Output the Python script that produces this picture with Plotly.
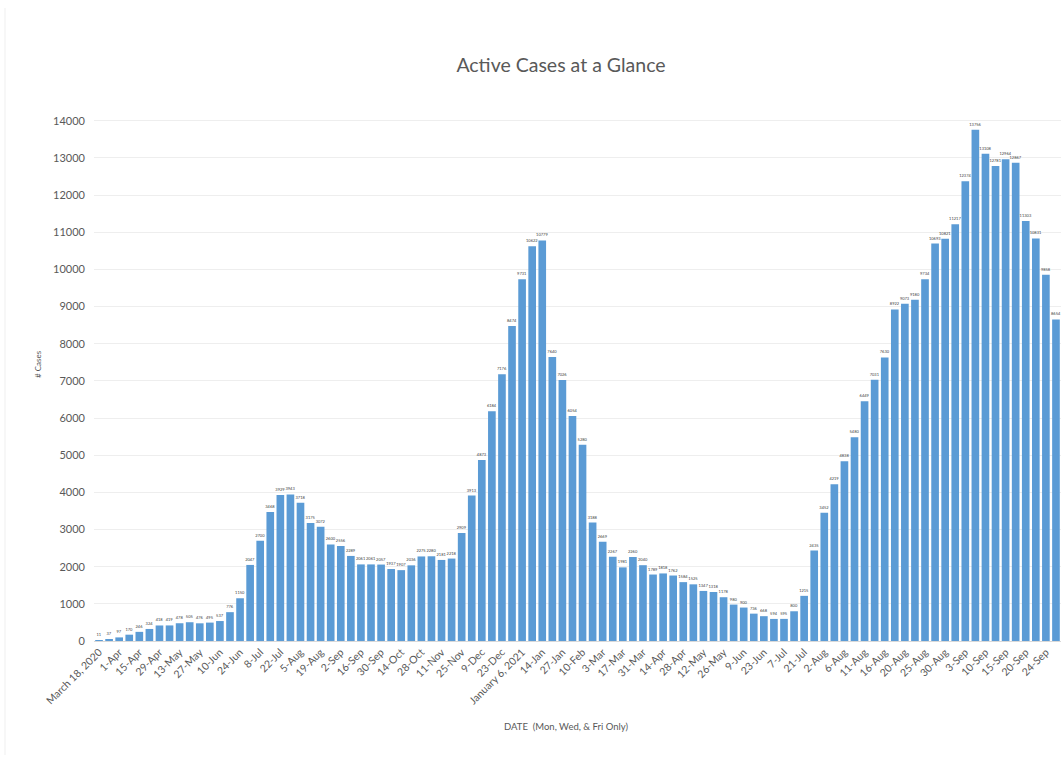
import plotly.graph_objects as go

categories = [
    "March 18, 2020", "25-Mar", "1-Apr", "8-Apr", "15-Apr", "22-Apr", "29-Apr", "6-May",
    "13-May", "20-May", "27-May", "3-Jun", "10-Jun", "17-Jun", "24-Jun", "1-Jul",
    "8-Jul", "15-Jul", "22-Jul", "29-Jul", "5-Aug", "12-Aug", "19-Aug", "26-Aug",
    "2-Sep", "9-Sep", "16-Sep", "23-Sep", "30-Sep", "7-Oct", "14-Oct", "21-Oct",
    "28-Oct", "4-Nov", "11-Nov", "18-Nov", "25-Nov", "2-Dec", "9-Dec", "16-Dec",
    "23-Dec", "30-Dec", "January 6, 2021", "11-Jan", "14-Jan", "20-Jan", "27-Jan", "3-Feb",
    "10-Feb", "17-Feb", "3-Mar", "10-Mar", "17-Mar", "24-Mar", "31-Mar", "7-Apr",
    "14-Apr", "21-Apr", "28-Apr", "5-May", "12-May", "19-May", "26-May", "2-Jun",
    "9-Jun", "16-Jun", "23-Jun", "30-Jun", "7-Jul", "14-Jul", "21-Jul", "28-Jul",
    "2-Aug", "4-Aug", "6-Aug", "9-Aug", "11-Aug", "13-Aug", "16-Aug", "18-Aug",
    "20-Aug", "23-Aug", "25-Aug", "27-Aug", "30-Aug", "1-Sep", "3-Sep", "8-Sep",
    "10-Sep", "13-Sep", "15-Sep", "17-Sep", "20-Sep", "22-Sep", "24-Sep", "27-Sep",
]

active_cases = [
    11, 37, 97, 170, 246, 324, 418, 419,
    478, 505, 476, 495, 537, 776, 1150, 2047,
    2700, 3468, 3929, 3943, 3718, 3175, 3072, 2600,
    2556, 2289, 2061, 2061, 2057, 1937, 1907, 2036,
    2275, 2280, 2181, 2218, 2909, 3913, 4873, 6184,
    7176, 8474, 9731, 10622, 10779, 7640, 7026, 6054,
    5280, 3188, 2669, 2267, 1981, 2260, 2040, 1789,
    1818, 1762, 1584, 1525, 1347, 1318, 1178, 980,
    900, 736, 668, 594, 595, 800, 1215, 2435,
    3452, 4219, 4838, 5480, 6449, 7031, 7630, 8922,
    9073, 9180, 9734, 10693, 10821, 11217, 12374, 13756,
    13108, 12781, 12964, 12867, 11303, 10831, 9858, 8654,
]

tick_labels = categories[::2]
y_ticks = list(range(0, 14001, 1000))
y_tick_text = [str(v) for v in y_ticks]

W, H = 1061, 761
ML, MR, MT, MB = 94, 0, 117, 120
PW, PH = W - ML - MR, H - MT - MB

def px_x(x):
    return (x - ML) / PW

def px_y(y):
    return (H - MB - y) / PH

FONT = "Lato"
GREY = "#595959"

fig = go.Figure(
    go.Bar(
        x=categories,
        y=active_cases,
        marker=dict(color="#5B9BD5", line=dict(width=0)),
        text=[str(v) for v in active_cases],
        textposition="outside",
        constraintext="none",
        textfont=dict(size=4, color="#404040", family=FONT),
        cliponaxis=False,
        hoverinfo="x+y",
    )
)

fig.update_layout(
    width=W,
    height=H,
    margin=dict(l=ML, r=MR, t=MT, b=MB, pad=0),
    paper_bgcolor="white",
    plot_bgcolor="white",
    bargap=0.24,
    showlegend=False,
    font=dict(family=FONT, color=GREY),
    title=dict(
        text="Active Cases at a Glance",
        x=561 / W,
        xanchor="center",
        y=1 - 65 / H,
        yanchor="middle",
        font=dict(size=19.5, color=GREY, family=FONT),
    ),
    xaxis=dict(
        type="category",
        tickmode="array",
        tickvals=tick_labels,
        ticktext=tick_labels,
        tickangle=-45,
        tickfont=dict(size=10.5, color=GREY),
        showgrid=False,
        showline=True,
        linecolor="#D9D9D9",
        linewidth=1,
        ticks="",
        range=[-0.5, len(categories) - 0.5],
    ),
    yaxis=dict(
        range=[0, 14100],
        tickmode="array",
        tickvals=y_ticks,
        ticktext=y_tick_text,
        tickfont=dict(size=11, color=GREY),
        showgrid=True,
        gridcolor="#EEEEEE",
        gridwidth=1,
        zeroline=False,
        ticks="",
        ticklabelstandoff=8,
    ),
    annotations=[
        dict(
            text="# Cases",
            xref="paper", yref="paper",
            x=px_x(31), y=px_y(364),
            textangle=-90,
            showarrow=False,
            font=dict(size=8, color=GREY, family=FONT),
        ),
        dict(
            text="DATE  (Mon, Wed, &amp; Fri Only)",
            xref="paper", yref="paper",
            x=px_x(566), y=px_y(734),
            showarrow=False,
            font=dict(size=9.5, color=GREY, family=FONT),
        ),
    ],
    shapes=[
        dict(
            type="line",
            xref="paper", yref="paper",
            x0=px_x(5), x1=px_x(5),
            y0=px_y(8), y1=px_y(755),
            line=dict(color="#EFEFEF", width=1),
        )
    ],
)

fig.write_html(
    "out.html",
    config={"displayModeBar": False},
    post_script="document.body.style.margin='0';document.body.style.overflow='hidden';",
)
